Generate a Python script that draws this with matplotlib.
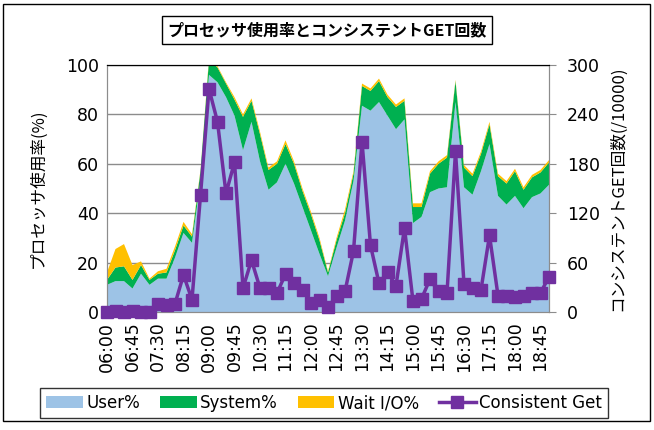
import pandas as pd
import matplotlib.pyplot as plt
from matplotlib.patches import Rectangle

plt.rcParams['font.family'] = ['DejaVu Sans', 'Noto Sans CJK JP']

times = pd.date_range('2000-01-01 06:00', '2000-01-01 19:00', freq='15min').strftime('%H:%M').tolist()

user = [11, 12.5, 12.5, 9.5, 15.5, 11, 13.5, 13.5, 22, 32, 28, 53, 96,
        93, 87, 79.5, 65.5, 77, 61, 49.5, 52.5, 60, 52, 42.5, 33, 23.5,
        14.5, 26, 37, 53, 83.5, 81.5, 85, 79.5, 74, 78, 36, 38.5, 48.5,
        50, 50.5, 85, 50.5, 47.5, 57, 68, 47, 43.5, 47, 42, 46.5, 48, 51.5]
system = [2, 5.5, 6, 3.5, 3.5, 2, 2, 2.5, 3, 3, 2.5, 4, 6,
          6, 5.5, 6.5, 13.5, 8.5, 11, 8, 7.5, 8, 8, 6.5, 6.5, 5.5,
          1.5, 3, 3, 3, 8, 8, 8.5, 7.5, 9, 7.5, 6.5, 4, 7.5,
          10, 12, 8.5, 8, 7.5, 7, 8, 8, 8.5, 10, 7.5, 8, 8.5, 9]
wait_io = [3, 7.5, 9, 6, 1.5, 0.5, 1, 1.5, 1.5, 1.5, 1, 0.5, 1,
           0.5, 0.5, 1, 1, 1, 1, 1, 1, 1.5, 1, 1, 1, 1,
           0.5, 1, 1.5, 1, 1, 1, 1, 1, 1, 1, 1.5, 1.5, 1,
           1, 1, 0.5, 1, 1, 1, 1, 1, 1, 1, 1, 1, 1, 1]
consistent_get = [0, 1, 0, 1, 0, 0, 10, 8, 10, 45, 15, 142, 271,
                  231, 144, 182, 29, 63, 29, 29, 23, 46, 35, 27, 11, 15,
                  6, 19, 25, 74, 207, 81, 35, 48, 32, 102, 13, 16, 40,
                  25, 23, 195, 34, 29, 27, 93, 20, 20, 18, 20, 23, 23, 43]

c_user = '#9DC3E6'
c_sys = '#00B050'
c_wait = '#FFC000'
c_cg = '#7030A0'
grey = '#8c8c8c'

fig = plt.figure(figsize=(6.54, 4.30), dpi=100)
fig.patches.append(Rectangle((3 / 654, 1 - 421 / 430), 647 / 654, 417 / 430,
                             transform=fig.transFigure, fill=False, ec='black', lw=1))

ax = fig.add_axes([107 / 654, 1 - 312 / 430, 442 / 654, 247 / 430])
x = list(range(len(times)))
ax.stackplot(x, user, system, wait_io, colors=[c_user, c_sys, c_wait],
             labels=['User%', 'System%', 'Wait I/O%'], lw=0)
ax.set_xlim(0, len(times) - 1)
ax.set_ylim(0, 100)
ax.set_yticks(range(0, 101, 20))
ax.set_axisbelow(True)
ax.grid(axis='y', color=grey, lw=1)
ax.set_xticks(x[::3])
ax.set_xticklabels(times[::3], rotation=90, fontsize=12.5)
ax.set_xticks(x, minor=True)
ax.tick_params(axis='x', which='both', direction='in', length=4, color=grey, pad=7)
ax.tick_params(axis='y', length=0, labelsize=12.5, pad=6)
for s in ['left', 'bottom', 'right']:
    ax.spines[s].set_color(grey)
ax.spines['top'].set_color('black')

ax2 = ax.twinx()
ax2.plot(x, consistent_get, color=c_cg, lw=2.5, marker='s', ms=8,
         label='Consistent Get', clip_on=False, zorder=5)
ax2.set_ylim(0, 300)
ax2.set_yticks(range(0, 301, 60))
ax2.tick_params(axis='y', direction='out', length=5, color=grey, labelsize=12.5, pad=8)
for s in ['left', 'bottom', 'right']:
    ax2.spines[s].set_color(grey)
ax2.spines['top'].set_color('black')

fig.text(38 / 654, 1 - 188 / 430, 'プロセッサ使用率(%)', rotation=90, ha='center', va='center',
         fontsize=12, family=['Noto Sans CJK JP', 'DejaVu Sans'])
fig.text(618 / 654, 1 - 188 / 430, 'コンシステントGET回数(/10000)', rotation=90, ha='center', va='center',
         fontsize=12, family=['Noto Sans CJK JP', 'DejaVu Sans'])
fig.text(0.5, 1 - 30 / 430, 'プロセッサ使用率とコンシステントGET回数', ha='center', va='center',
         fontsize=11.5, fontweight='bold', family=['Noto Sans CJK JP', 'DejaVu Sans'],
         bbox=dict(boxstyle='square,pad=0.35', fc='white', ec='black', lw=1))

h1, l1 = ax.get_legend_handles_labels()
h2, l2 = ax2.get_legend_handles_labels()
leg = fig.legend(h1 + h2, l1 + l2, loc='center', bbox_to_anchor=(324 / 654, 1 - 403 / 430),
                 ncol=4, fontsize=12, frameon=True, fancybox=False, edgecolor='black',
                 handlelength=2.2, handletextpad=0.2, columnspacing=1.2, borderpad=0.35)
leg.get_frame().set_linewidth(1)

fig.savefig('out.png', dpi=100)
